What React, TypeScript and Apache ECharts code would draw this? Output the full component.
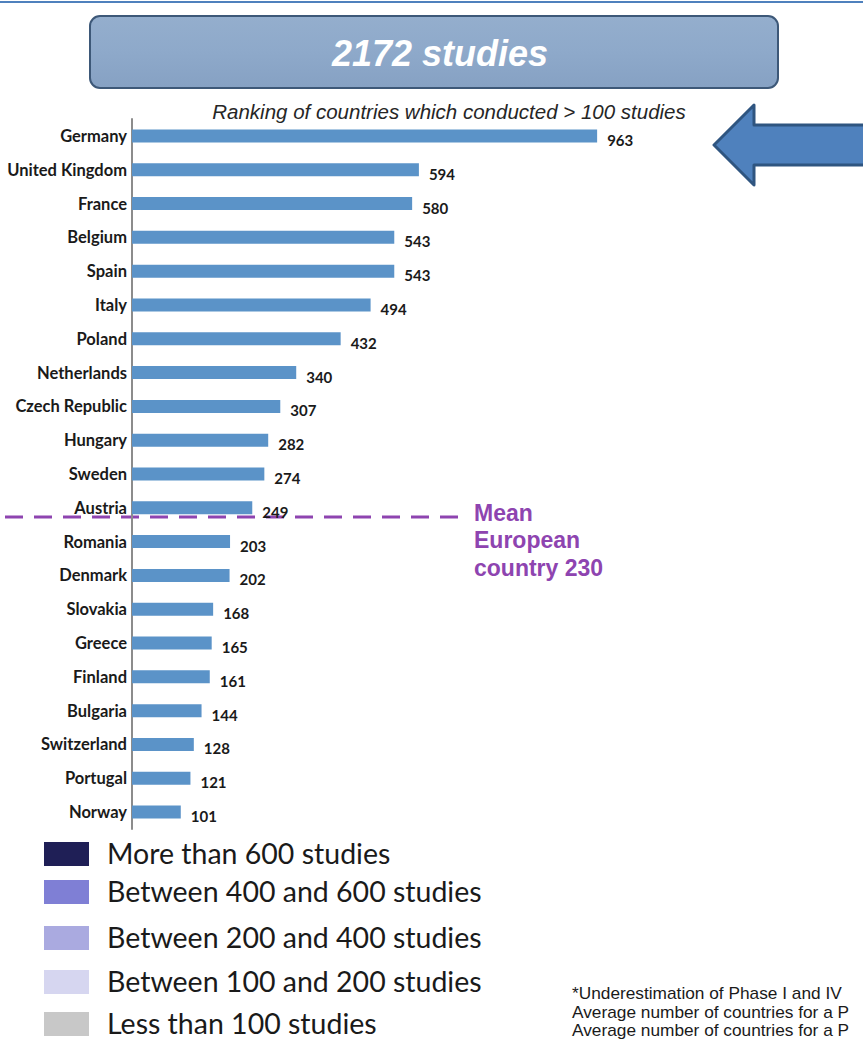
import React, { useEffect, useRef } from "react";
import * as echarts from "echarts";

const countries = [
  "Germany", "United Kingdom", "France", "Belgium", "Spain", "Italy", "Poland",
  "Netherlands", "Czech Republic", "Hungary", "Sweden", "Austria", "Romania",
  "Denmark", "Slovakia", "Greece", "Finland", "Bulgaria", "Switzerland",
  "Portugal", "Norway",
];
const studies = [
  963, 594, 580, 543, 543, 494, 432, 340, 307, 282, 274, 249, 203, 202, 168,
  165, 161, 144, 128, 121, 101,
];
const legendLabels = [
  "More than 600 studies",
  "Between 400 and 600 studies",
  "Between 200 and 400 studies",
  "Between 100 and 200 studies",
  "Less than 100 studies",
];
const legendColors = ["#1f1f56", "#7f7fd5", "#aaaae0", "#d6d6f0", "#c8c8c8"];
const footnotes = [
  "*Underestimation of Phase I and IV",
  "Average number of countries for a P",
  "Average number of countries for a P",
];

const W = 863;
const H = 1039;

export default function App() {
  const ref = useRef<HTMLDivElement>(null);

  useEffect(() => {
    document.body.style.margin = "0";
    const chart = echarts.init(ref.current!, null, { renderer: "svg" });

    const legendTop = [842, 880, 926, 970, 1012];
    const legendGraphics: any[] = [];
    legendLabels.forEach((label, i) => {
      legendGraphics.push({
        type: "rect",
        shape: { x: 44, y: legendTop[i], width: 45, height: 24 },
        style: { fill: legendColors[i] },
      });
      legendGraphics.push({
        type: "text",
        x: 107,
        y: legendTop[i] + 11,
        style: {
          text: label,
          font: "28.5px Lato",
          lineHeight: 28,
          fill: "#1a1a1a",
          textVerticalAlign: "middle",
        },
      });
    });

    chart.setOption({
      animation: false,
      backgroundColor: "#ffffff",
      grid: { left: 132, right: 248, top: 119, bottom: 210 },
      xAxis: {
        type: "value",
        min: 0,
        max: 1000,
        show: false,
      },
      yAxis: {
        type: "category",
        data: countries,
        inverse: true,
        axisTick: { show: false },
        axisLine: { show: true, lineStyle: { color: "#8c8c8c", width: 2 } },
        axisLabel: {
          margin: 5,
          fontFamily: "Lato",
          fontWeight: "bold",
          fontSize: 16.5,
          color: "#1a1a1a",
        },
      },
      series: [
        {
          type: "bar",
          data: studies,
          barWidth: 13,
          itemStyle: { color: "#5b93c8" },
          label: {
            show: true,
            position: "right",
            distance: 10,
            offset: [0, 4],
            fontFamily: "Lato",
            fontWeight: "bold",
            fontSize: 15,
            color: "#1a1a1a",
          },
        },
      ],
      graphic: [
        {
          type: "line",
          shape: { x1: 0, y1: 2, x2: W, y2: 2 },
          style: { stroke: "#4f81bd", lineWidth: 2 },
        },
        {
          type: "rect",
          shape: { x: 90, y: 16, width: 688, height: 72, r: 10 },
          style: {
            fill: new echarts.graphic.LinearGradient(0, 0, 0, 1, [
              { offset: 0, color: "#94aecd" },
              { offset: 0.5, color: "#8ea9ca" },
              { offset: 1, color: "#86a1c3" },
            ]),
            stroke: "#3d5878",
            lineWidth: 2,
          },
        },
        {
          type: "text",
          x: 440,
          y: 53,
          style: {
            text: "2172 studies",
            font: "italic bold 36px 'Liberation Sans'",
            fill: "#ffffff",
            textAlign: "center",
            textVerticalAlign: "middle",
          },
        },
        {
          type: "text",
          x: 449,
          y: 111,
          style: {
            text: "Ranking of countries which conducted > 100 studies",
            font: "italic 20.5px 'Liberation Sans'",
            fill: "#262626",
            textAlign: "center",
            textVerticalAlign: "middle",
          },
        },
        {
          type: "line",
          shape: { x1: 5, y1: 517, x2: 460, y2: 517 },
          style: { stroke: "#8e44b0", lineWidth: 3, lineDash: [18, 11] },
        },
        {
          type: "text",
          x: 474,
          y: 499,
          style: {
            text: "Mean\nEuropean\ncountry 230",
            font: "bold 23px 'Liberation Sans'",
            lineHeight: 27.5,
            fill: "#8e44b0",
          },
        },
        {
          type: "polygon",
          shape: {
            points: [
              [714, 145],
              [754, 105],
              [754, 125],
              [870, 125],
              [870, 165],
              [754, 165],
              [754, 185],
            ],
          },
          style: { fill: "#4f81bd", stroke: "#2f5580", lineWidth: 3, lineJoin: "round" },
        },
        ...legendGraphics,
        ...footnotes.map((t, i) => ({
          type: "text",
          x: 572,
          y: 994 + i * 18.5,
          scaleX: 1.08,
          style: {
            text: t,
            font: "16px 'Liberation Sans'",
            fill: "#1a1a1a",
            textVerticalAlign: "middle",
          },
        })),
      ],
    });

    return () => chart.dispose();
  }, []);

  return <div ref={ref} style={{ width: W, height: H }} />;
}
